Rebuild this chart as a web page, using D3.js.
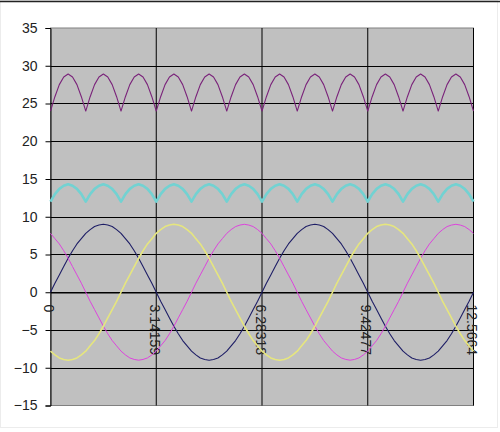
<!DOCTYPE html>
<html>
<head>
<meta charset="utf-8">
<script src="https://cdn.jsdelivr.net/npm/d3@7"></script>
<style>
  body { margin: 0; background: #fff; }
  svg { display: block; font-family: "Liberation Sans", Arial, sans-serif; }
</style>
</head>
<body>
<svg width="500" height="432"></svg>
<script>
// サンプル点 (0 .. 4π, π/24刻み, 97点)
var xTickIdx = [0, 24, 48, 72, 96];
var xTickLabels = ["0", "3.14159", "6.28318", "9.42477", "12.5664"];
var yTicks = [-15, -10, -5, 0, 5, 10, 15, 20, 25, 30, 35];

var navySeries = [
  0, 1.2, 2.3, 3.4, 4.5, 5.5, 6.4, 7.1, 7.8, 8.3, 8.7, 8.9, 9, 8.9, 8.7, 8.3, 7.8, 7.1, 6.4, 5.5, 4.5, 3.4, 2.3, 1.2,
  0, -1.2, -2.3, -3.4, -4.5, -5.5, -6.4, -7.1, -7.8, -8.3, -8.7, -8.9, -9, -8.9, -8.7, -8.3, -7.8, -7.1, -6.4, -5.5, -4.5, -3.4, -2.3, -1.2,
  0, 1.2, 2.3, 3.4, 4.5, 5.5, 6.4, 7.1, 7.8, 8.3, 8.7, 8.9, 9, 8.9, 8.7, 8.3, 7.8, 7.1, 6.4, 5.5, 4.5, 3.4, 2.3, 1.2,
  0, -1.2, -2.3, -3.4, -4.5, -5.5, -6.4, -7.1, -7.8, -8.3, -8.7, -8.9, -9, -8.9, -8.7, -8.3, -7.8, -7.1, -6.4, -5.5, -4.5, -3.4, -2.3, -1.2,
  0
];

var magentaSeries = [
  7.8, 7.1, 6.4, 5.5, 4.5, 3.4, 2.3, 1.2, 0, -1.2, -2.3, -3.4, -4.5, -5.5, -6.4, -7.1,
  -7.8, -8.3, -8.7, -8.9, -9, -8.9, -8.7, -8.3, -7.8, -7.1, -6.4, -5.5, -4.5, -3.4, -2.3, -1.2,
  0, 1.2, 2.3, 3.4, 4.5, 5.5, 6.4, 7.1, 7.8, 8.3, 8.7, 8.9, 9, 8.9, 8.7, 8.3,
  7.8, 7.1, 6.4, 5.5, 4.5, 3.4, 2.3, 1.2, 0, -1.2, -2.3, -3.4, -4.5, -5.5, -6.4, -7.1,
  -7.8, -8.3, -8.7, -8.9, -9, -8.9, -8.7, -8.3, -7.8, -7.1, -6.4, -5.5, -4.5, -3.4, -2.3, -1.2,
  0, 1.2, 2.3, 3.4, 4.5, 5.5, 6.4, 7.1, 7.8, 8.3, 8.7, 8.9, 9, 8.9, 8.7, 8.3,
  7.8
];

var yellowSeries = [
  -7.8, -8.3, -8.7, -8.9, -9, -8.9, -8.7, -8.3, -7.8, -7.1, -6.4, -5.5, -4.5, -3.4, -2.3, -1.2,
  0, 1.2, 2.3, 3.4, 4.5, 5.5, 6.4, 7.1, 7.8, 8.3, 8.7, 8.9, 9, 8.9, 8.7, 8.3,
  7.8, 7.1, 6.4, 5.5, 4.5, 3.4, 2.3, 1.2, 0, -1.2, -2.3, -3.4, -4.5, -5.5, -6.4, -7.1,
  -7.8, -8.3, -8.7, -8.9, -9, -8.9, -8.7, -8.3, -7.8, -7.1, -6.4, -5.5, -4.5, -3.4, -2.3, -1.2,
  0, 1.2, 2.3, 3.4, 4.5, 5.5, 6.4, 7.1, 7.8, 8.3, 8.7, 8.9, 9, 8.9, 8.7, 8.3,
  7.8, 7.1, 6.4, 5.5, 4.5, 3.4, 2.3, 1.2, 0, -1.2, -2.3, -3.4, -4.5, -5.5, -6.4, -7.1,
  -7.8
];

var turquoiseSeries = [
  12, 13, 13.7, 14.1, 14.3, 14.1, 13.7, 13, 12, 13, 13.7, 14.1, 14.3, 14.1, 13.7, 13,
  12, 13, 13.7, 14.1, 14.3, 14.1, 13.7, 13, 12, 13, 13.7, 14.1, 14.3, 14.1, 13.7, 13,
  12, 13, 13.7, 14.1, 14.3, 14.1, 13.7, 13, 12, 13, 13.7, 14.1, 14.3, 14.1, 13.7, 13,
  12, 13, 13.7, 14.1, 14.3, 14.1, 13.7, 13, 12, 13, 13.7, 14.1, 14.3, 14.1, 13.7, 13,
  12, 13, 13.7, 14.1, 14.3, 14.1, 13.7, 13, 12, 13, 13.7, 14.1, 14.3, 14.1, 13.7, 13,
  12, 13, 13.7, 14.1, 14.3, 14.1, 13.7, 13, 12, 13, 13.7, 14.1, 14.3, 14.1, 13.7, 13,
  12
];

var violetSeries = [
  24, 25.9, 27.5, 28.5, 28.9, 28.5, 27.5, 25.9, 24, 25.9, 27.5, 28.5, 28.9, 28.5, 27.5, 25.9,
  24, 25.9, 27.5, 28.5, 28.9, 28.5, 27.5, 25.9, 24, 25.9, 27.5, 28.5, 28.9, 28.5, 27.5, 25.9,
  24, 25.9, 27.5, 28.5, 28.9, 28.5, 27.5, 25.9, 24, 25.9, 27.5, 28.5, 28.9, 28.5, 27.5, 25.9,
  24, 25.9, 27.5, 28.5, 28.9, 28.5, 27.5, 25.9, 24, 25.9, 27.5, 28.5, 28.9, 28.5, 27.5, 25.9,
  24, 25.9, 27.5, 28.5, 28.9, 28.5, 27.5, 25.9, 24, 25.9, 27.5, 28.5, 28.9, 28.5, 27.5, 25.9,
  24, 25.9, 27.5, 28.5, 28.9, 28.5, 27.5, 25.9, 24, 25.9, 27.5, 28.5, 28.9, 28.5, 27.5, 25.9,
  24
];

var svg = d3.select("svg");

// チャート枠
svg.append("rect")
  .attr("x", 0.5).attr("y", 0.5)
  .attr("width", 497).attr("height", 427)
  .attr("fill", "#fff")
  .attr("stroke", "#ececec");
svg.append("line")
  .attr("x1", 0).attr("x2", 500)
  .attr("y1", 1.5).attr("y2", 1.5)
  .attr("stroke", "#222")
  .attr("stroke-width", 1.5);

var x = d3.scaleLinear().domain([0, 96]).range([50.5, 473.5]);
var y = d3.scaleLinear().domain([-15, 35]).range([405.5, 28]);

// プロットエリア
svg.append("rect")
  .attr("x", x(0)).attr("y", y(35))
  .attr("width", x(96) - x(0))
  .attr("height", y(-15) - y(35))
  .attr("fill", "#c0c0c0")
  .attr("stroke", "#808080");

// 横グリッド
svg.append("g")
  .selectAll("line")
  .data(yTicks.filter(function (d) { return d > -15 && d < 35; }))
  .enter().append("line")
  .attr("x1", x(0)).attr("x2", x(96))
  .attr("y1", function (d) { return Math.round(y(d)) + 0.5; })
  .attr("y2", function (d) { return Math.round(y(d)) + 0.5; })
  .attr("stroke", "#000");

// 縦グリッド
svg.append("g")
  .selectAll("line")
  .data(xTickIdx.slice(1))
  .enter().append("line")
  .attr("x1", function (d) { return x(d); })
  .attr("x2", function (d) { return x(d); })
  .attr("y1", y(35)).attr("y2", y(-15))
  .attr("stroke", "#000");

// Y軸
var yAxis = svg.append("g")
  .attr("transform", "translate(" + x(0) + ",0)")
  .call(d3.axisLeft(y).tickValues(yTicks).tickSize(5).tickPadding(8));
yAxis.select(".domain").attr("stroke", "#000");
yAxis.selectAll("text")
  .attr("font-size", 14)
  .attr("font-family", "Liberation Sans, Arial, sans-serif")
  .attr("fill", "#222");

// X軸 (y=0の位置, ラベルは90度回転)
var xAxis = svg.append("g")
  .attr("transform", "translate(0," + (Math.round(y(0)) + 0.5) + ")")
  .call(d3.axisBottom(x).tickValues(xTickIdx).tickSize(0)
    .tickFormat(function (d, i) { return xTickLabels[i]; }));
xAxis.select(".domain").attr("stroke", "#000");
xAxis.selectAll("text")
  .attr("transform", "rotate(90)")
  .attr("x", 12).attr("y", 0).attr("dy", "0.5em")
  .style("text-anchor", "start")
  .attr("font-size", 14)
  .attr("font-family", "Liberation Sans, Arial, sans-serif")
  .attr("fill", "#222");

// 系列
var series = [
  { values: navySeries, color: "#1e1e66", width: 1.1 },
  { values: magentaSeries, color: "#dd44dd", width: 1 },
  { values: yellowSeries, color: "#e6e67e", width: 1.6 },
  { values: turquoiseSeries, color: "#72d2d2", width: 2.6 },
  { values: violetSeries, color: "#7a237a", width: 1.1 }
];

var line = d3.line()
  .x(function (d, i) { return x(i); })
  .y(function (d) { return y(d); });

svg.append("g")
  .selectAll("path")
  .data(series)
  .enter().append("path")
  .attr("fill", "none")
  .attr("stroke", function (d) { return d.color; })
  .attr("stroke-width", function (d) { return d.width; })
  .attr("stroke-linejoin", "round")
  .attr("d", function (d) { return line(d.values); })
</script>
</body>
</html>
